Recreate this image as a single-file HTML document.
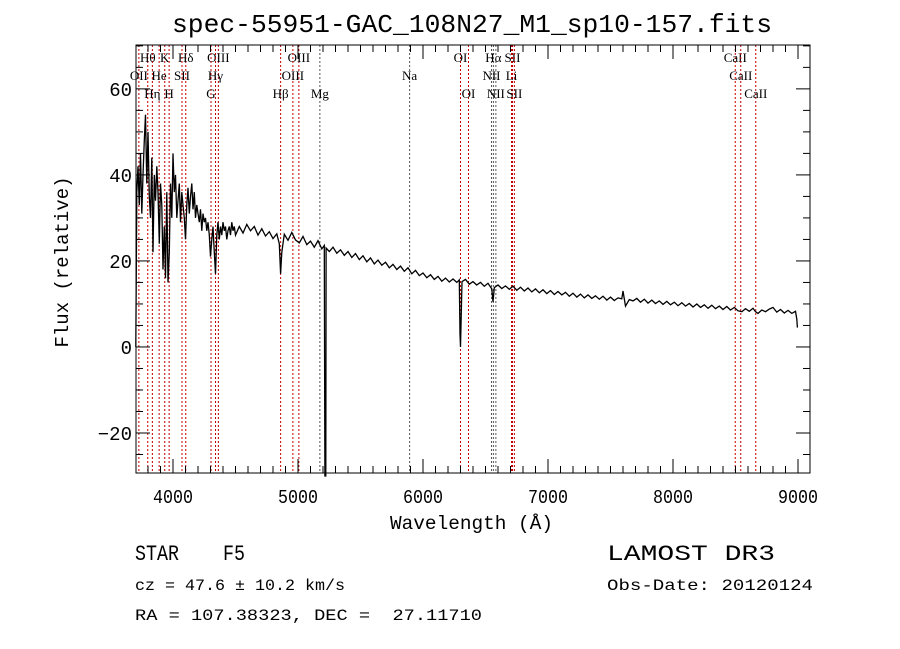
<!DOCTYPE html>
<html><head><meta charset="utf-8"><style>
body{margin:0;background:#fff;width:900px;height:649px;overflow:hidden}
svg{display:block}
text{font-family:"Liberation Mono",monospace}
</style></head><body>
<svg id="chart" width="900" height="649"></svg>
<script>
const wave=[3702,3710,3720,3730,3740,3750,3760,3770,3780,3790,3800,3810,3820,3830,3840,3850,3860,3870,3880,3890,3900,3910,3920,3930,3940,3950,3960,3970,3980,3990,4000,4010,4020,4030,4040,4050,4060,4070,4080,4090,4100,4110,4120,4130,4140,4150,4160,4170,4180,4190,4200,4210,4220,4230,4240,4250,4260,4270,4280,4290,4300,4310,4320,4330,4340,4350,4360,4370,4380,4390,4400,4410,4420,4430,4440,4450,4460,4470,4480,4490,4500,
4530,4560,4590,4620,4650,4680,4710,4740,4770,4800,4830,4850,4861,4870,4890,4920,4950,4980,5010,5040,5070,5100,5130,5160,5190,5210,5215,5222,5225,5250,5280,5310,5340,5370,5400,5430,5460,5490,5520,5550,5580,5610,5640,5670,5700,5730,5760,5790,5820,5850,5880,5910,5940,5970,6000,6030,6060,6090,6120,6150,6180,6210,6240,6270,6290,6296,6300,6305,6312,6340,6370,6400,6430,6460,6490,6520,6550,6560,6570,6600,6630,6660,6690,6720,6750,6780,6810,6840,6870,6900,6930,6960,6990,7020,7050,7080,7110,7140,7170,7200,7230,7260,7290,7320,7350,7380,7410,7440,7470,7500,7530,7560,7590,7600,7620,7650,7680,7710,7740,7770,7800,7830,7860,7890,7920,7950,7980,8010,8040,8070,8100,8130,8160,8190,8220,8250,8280,8310,8340,8370,8400,8430,8460,8490,8520,8550,8580,8610,8640,8660,8680,8710,8740,8770,8800,8830,8860,8890,8920,8950,8980,8990,8995];
const flux=[0,36,42,33,45,31,40,48,54,38,50,35,30,44,22,40,34,42,36,24,38,33,18,28,16,36,15,22,38,30,45,36,40,30,34,38,29,36,33,30,25,33,37,31,35,38,32,36,30,33,31,29,32,27,31,29,30,27,29,26,21,25,28,22,17,26,29,25,28,26,29,27,28,25,27,28,26,29,27,28,26,
28,26.5,28.5,27,28,26,27.5,25.8,26.8,25.2,26.3,24,17,22,26.2,24.8,26.6,24.9,24.2,25.7,23.8,24.6,23.2,24.7,22.8,23.6,-30,-30,23,22.2,23.2,21.8,22.6,21.3,22.2,20.8,21.7,20.3,21.2,19.8,20.7,19.3,20.2,19,19.7,18.4,19.2,18,18.8,17.6,18.4,17,17.8,16.6,17.2,16.1,16.8,15.7,16.4,15.3,16,15.1,15.8,15,15.6,3,0,6,15.2,15.7,14.6,15.2,14.4,15,14.1,14.8,13.5,10.5,13.8,14.4,13.6,14.2,13.4,14.1,13.2,13.9,13,13.7,12.8,13.5,12.6,13.3,12.4,13.1,12.2,12.9,12.1,12.7,11.8,12.5,11.6,12.3,11.4,12.1,11.3,11.9,11.1,11.8,10.9,11.6,10.8,11.4,11.2,13,9.5,11,10.7,11.3,10.4,11.1,10.2,10.9,10.1,10.7,9.9,10.6,9.8,10.4,9.6,10.3,9.5,10.1,9.3,10,9.2,9.8,9,9.7,8.9,9.5,8.7,9.4,8.6,9.2,8.4,8.2,8.9,8.3,9,8.2,7.8,8.6,8.2,8.8,9.2,8.1,8.7,7.9,8.5,7.8,8.3,6.5,4.5,0];
const lineNames=["Hθ","K","Hδ","OIII","OIII","OI","Hα","SII","CaII","OII","He","SII","Hγ","OIII","Na","NII","Li","CaII","Hη","H","G","Hβ","Mg","OI","NII","SII","CaII"];
const lineWaves=[3798,3934,4102,4363,5007,6300,6563,6716,8498,3727,3889,4072,4340,4959,5893,6548,6708,8542,3835,3969,4304,4861,5175,6364,6583,6731,8662];
const lineRows=[0,0,0,0,0,0,0,0,0,1,1,1,1,1,1,1,1,1,2,2,2,2,2,2,2,2,2];
const xTicks=[4000,5000,6000,7000,8000,9000];
const yTicks=[-20,0,20,40,60];
const L=136,R=810,T=45,B=473,X0=3704,X1=9096,Y0=-29.3,Y1=70.2;
const sx=w=>L+(w-X0)/(X1-X0)*(R-L);
const sy=f=>B-(f-Y0)/(Y1-Y0)*(B-T);
const svg=document.getElementById('chart');
const NS='http://www.w3.org/2000/svg';
function mk(t,a,txt){const e=document.createElementNS(NS,t);for(const k in a)e.setAttribute(k,a[k]);if(txt!==undefined)e.textContent=txt;svg.appendChild(e);return e;}
lineWaves.forEach((w,i)=>{
 const x=sx(w);
 const ln=mk('line',{x1:x,x2:x,y1:T,y2:B,stroke:(lineNames[i]==='Na'||lineNames[i]==='Mg'||lineNames[i]==='NII'||lineNames[i]==='Hα')?'#555':'#c00000','stroke-width':1,'stroke-dasharray':'2,2'});
 
 
 const t=mk('text',{x:x,y:62+lineRows[i]*18,'text-anchor':'middle','font-size':13,style:'font-family:"Liberation Serif",serif'},lineNames[i]);
 
 
});
let d='';wave.forEach((w,i)=>{d+=(i?'L':'M')+sx(w).toFixed(1)+' '+sy(flux[i]).toFixed(1);});
const p=mk('path',{d:d,fill:'none',stroke:'#000','stroke-width':1.3});


const fr=mk('rect',{x:L,y:T,width:R-L,height:B-T,fill:'none',stroke:'#000','stroke-width':1});


for(let w=3800;w<=9000;w+=100){const x=sx(w);const big=w%1000===0;const len=big?14:7;
 const a=mk('line',{x1:x,x2:x,y1:B,y2:B-len,stroke:'#000'});
 const b=mk('line',{x1:x,x2:x,y1:T,y2:T+len,stroke:'#000'});}
xTicks.forEach(w=>{const t=mk('text',{x:sx(w)-20,y:503,'font-size':19,textLength:40,lengthAdjust:'spacingAndGlyphs'},String(w));});
for(let f=-25;f<=70;f+=5){const y=sy(f);const big=f%20===0;const len=big?14:7;
 const a=mk('line',{x1:L,x2:L+len,y1:y,y2:y,stroke:'#000'});
 const b=mk('line',{x1:R,x2:R-len,y1:y,y2:y,stroke:'#000'});}
yTicks.forEach(f=>{const s=String(f).replace('-','−');const t=mk('text',{x:L-4,y:sy(f)+7,'text-anchor':'end','font-size':19},s);});
const tt=mk('text',{x:172,y:32,'font-size':26,textLength:600,lengthAdjust:'spacingAndGlyphs'},'spec-55951-GAC_108N27_M1_sp10-157.fits');
const xl=mk('text',{x:390,y:529,'font-size':19,textLength:163,lengthAdjust:'spacingAndGlyphs'},'Wavelength (Å)');
const yl=mk('text',{x:68,y:262,'text-anchor':'middle','font-size':19,transform:'rotate(-90 68 262)'},'Flux (relative)');
const info=[[135,560,22,110,'STAR    F5','object-class'],[607,560,22,168,'LAMOST DR3','survey-label'],[135,590,16,210,'cz = 47.6 ± 10.2 km/s','redshift-info'],[607,590,16,206,'Obs-Date: 20120124','obs-date'],[135,620,16,347,'RA = 107.38323, DEC =  27.11710','coordinates']];
info.forEach(r=>{const t=mk('text',{x:r[0],y:r[1],'font-size':r[2],textLength:r[3],lengthAdjust:'spacingAndGlyphs',style:'white-space:pre'},r[4]);t.setAttribute('xml:space','preserve');});
</script>
</body></html>
